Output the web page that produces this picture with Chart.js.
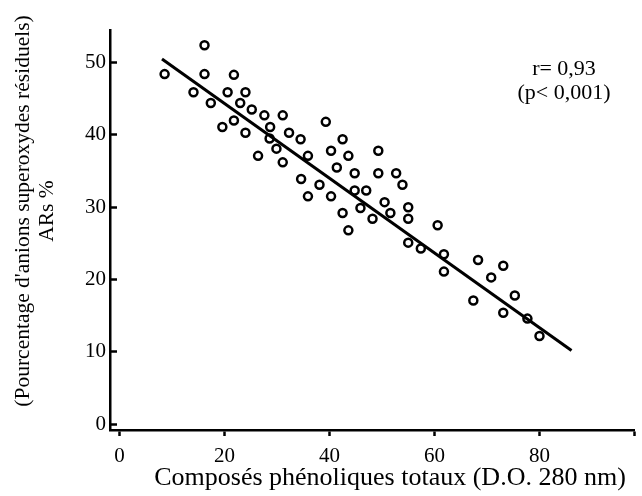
<!DOCTYPE html>
<html>
<head>
<meta charset="utf-8">
<script src="https://cdn.jsdelivr.net/npm/chart.js@4.4.1/dist/chart.umd.min.js"></script>
<style>body{margin:0;background:#fff}</style>
</head>
<body>
<canvas id="scatter" width="642" height="496"></canvas>
<script>
// total phenolic compounds (x) vs residual superoxide anions % (y)
const phenols = [8.6, 16.2, 16.2, 21.8, 14.1, 20.6, 24.0, 17.4, 23.0, 25.2, 27.6, 31.1, 28.7, 21.8, 19.6, 24.0, 28.6, 32.3, 29.9, 26.4, 31.1,
  39.3, 34.5, 42.5, 35.9, 40.3, 43.6, 49.3, 41.4, 44.8, 49.3, 52.7, 53.9, 34.6, 38.1, 44.8, 47.0, 35.9, 40.3, 50.5, 45.9, 55.0, 51.6, 42.5, 48.2, 55.0, 43.6, 60.6, 55.0, 57.4, 61.8, 61.8,
  68.3, 73.1, 70.8, 75.3, 67.4, 73.1, 77.7, 80.0];
const ars = [48.4, 52.4, 48.4, 48.3, 45.9, 45.9, 45.9, 44.4, 44.4, 43.5, 42.7, 42.7, 41.1, 42.0, 41.1, 40.3, 39.5, 40.3, 38.1, 37.1, 36.2,
  41.8, 39.4, 39.4, 37.1, 37.8, 37.1, 37.8, 35.5, 34.7, 34.7, 34.7, 33.1, 33.9, 33.1, 32.3, 32.3, 31.5, 31.5, 30.7, 29.9, 30.0, 29.2, 29.2, 28.4, 28.4, 26.8, 27.5, 25.1, 24.3, 23.5, 21.1,
  22.7, 21.9, 20.3, 17.8, 17.1, 15.4, 14.6, 12.2];

// regression line ends
const fitX = [8.1, 86.1];
const fitY = [50.5, 10.2];

const xMax = 98;
const xTicks = [0, 20, 40, 60, 80, xMax];
const yTicks = [0, 10, 20, 30, 40, 50];
const xTitle = 'Composés phénoliques totaux (D.O. 280 nm)';
const yTitle = ["(Pourcentage d'anions superoxydes résiduels)", 'ARs %'];
const statLines = ['r= 0,93', '(p< 0,001)'];

const serif = "'Liberation Serif', 'DejaVu Serif', serif";

// titles and the r / p note
const textBits = {
  id: 'textBits',
  afterDraw(chart) {
    const ctx = chart.ctx;
    ctx.save();
    ctx.fillStyle = '#000';
    ctx.textAlign = 'center';
    ctx.textBaseline = 'middle';

    ctx.font = '22px ' + serif;
    ctx.fillText(statLines[0], 564, 69);
    ctx.fillText(statLines[1], 564, 93);

    ctx.font = '26px ' + serif;
    ctx.fillText(xTitle, 390, 478);

    ctx.font = '21.5px ' + serif;
    ctx.translate(0, 211);
    ctx.rotate(-Math.PI / 2);
    ctx.fillText(yTitle[0], 0, 23);
    ctx.fillText(yTitle[1], 0, 47);
    ctx.restore();
  }
};

new Chart(document.getElementById('scatter'), {
  type: 'scatter',
  data: {
    datasets: [{
      label: 'points',
      data: phenols.map((x, i) => ({x: x, y: ars[i]})),
      pointRadius: 4,
      pointBorderWidth: 2.5,
      pointBorderColor: '#000',
      pointBackgroundColor: 'rgba(0,0,0,0)'
    }, {
      type: 'line',
      label: 'fit',
      data: fitX.map((x, i) => ({x: x, y: fitY[i]})),
      borderColor: '#000',
      borderWidth: 3,
      pointRadius: 0,
      fill: false
    }]
  },
  options: {
    responsive: false,
    animation: false,
    devicePixelRatio: 1,
    layout: {padding: {top: 30, right: 2, left: 0, bottom: 0}},
    plugins: {legend: {display: false}, tooltip: {enabled: false}},
    scales: {
      x: {
        type: 'linear',
        min: -1.8,
        max: xMax,
        afterFit: s => { s.height = 66; },
        afterBuildTicks: s => { s.ticks = xTicks.map(v => ({value: v})); },
        grid: {drawOnChartArea: false, tickLength: 6, tickWidth: 2.5, tickColor: '#000'},
        border: {color: '#000', width: 2.5},
        ticks: {
          color: '#000', padding: 8, maxRotation: 0, autoSkip: false,
          font: {family: serif, size: 21},
          callback: v => (v === xMax ? '' : v)
        }
      },
      y: {
        type: 'linear',
        min: -0.8,
        max: 54.5,
        afterFit: s => { s.width = 110; },
        afterBuildTicks: s => { s.ticks = yTicks.map(v => ({value: v})); },
        grid: {drawOnChartArea: false, tickLength: -7, tickWidth: 2.5, tickColor: '#000'},
        border: {color: '#000', width: 2.5},
        ticks: {color: '#000', padding: 11, font: {family: serif, size: 21}}
      }
    }
  },
  plugins: [textBits]
});
</script>
</body>
</html>
